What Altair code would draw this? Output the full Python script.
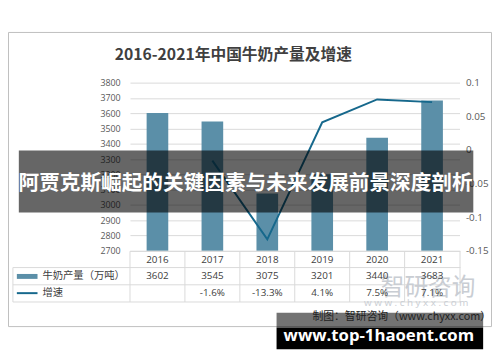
import altair as alt
import pandas as pd

# ---------------- data ----------------
years = ["2016", "2017", "2018", "2019", "2020", "2021"]
production = [3602, 3545, 3075, 3201, 3440, 3683]
growth = [None, -0.016, -0.133, 0.041, 0.075, 0.071]
growth_labels = ["", "-1.6%", "-13.3%", "4.1%", "7.5%", "7.1%"]
left_ticks = [2700, 2800, 2900, 3000, 3100, 3200, 3300, 3400, 3500, 3600, 3700, 3800]
right_ticks = [-0.15, -0.1, -0.05, 0, 0.05, 0.1]

title_text = "2016-2021年中国牛奶产量及增速"
series_names = ["牛奶产量（万吨）", "增速"]
banner_text = "阿贾克斯崛起的关键因素与未来发展前景深度剖析"
source_text = "制图：智研咨询（www.chyxx.com）"
site_text = "www.top-1haoent.com"
wm_text = "智研咨询"
wm_url = "w w w . c h y x x . c o m"

df = pd.DataFrame({"year": years, "production": production,
                   "growth": growth, "growth_label": growth_labels})

BAR = "#5b8fa8"
LINE = "#16688c"
GRID = "#d9d9d9"
CJK = "Noto Sans CJK SC"
TXT = "#404040"

one = alt.Data(values=[{"a": 1}])


def rect(x, x2, y, y2, **kw):
    return alt.Chart(one).mark_rect(**kw).encode(
        x=alt.value(x), x2=alt.value(x2), y=alt.value(y), y2=alt.value(y2))


def rule(x, x2, y, y2, color=GRID, width=1):
    return alt.Chart(one).mark_rule(color=color, strokeWidth=width).encode(
        x=alt.value(x), x2=alt.value(x2), y=alt.value(y), y2=alt.value(y2))


def label(text, x, y, **kw):
    return alt.Chart(one).mark_text(**kw).encode(
        x=alt.value(x), y=alt.value(y), text=alt.value(text))


X = alt.X("year:N", sort=years,
          scale=alt.Scale(paddingInner=0, paddingOuter=0), axis=None)

frame = rect(-123.5, 367.5, -51, 248, fill="white", fillOpacity=0,
             stroke="#bfbfbf", strokeWidth=1)

title = label(title_text, 105, -28, font=CJK, fontSize=16, fontWeight="bold",
              color=TXT, align="center", baseline="middle")

bars = alt.Chart(df).mark_bar(size=22, color=BAR, clip=True).encode(
    x=X,
    y=alt.Y("production:Q",
            scale=alt.Scale(domain=[2700, 3800], nice=False, zero=False),
            axis=alt.Axis(values=left_ticks, format="d", domain=False, ticks=False,
                          labelPadding=10, labelFontSize=9, labelColor="#595959",
                          labelFont="Open Sans", gridColor=GRID, title=None,
                          zindex=0)),
)

line = alt.Chart(df).mark_line(color=LINE, strokeWidth=2).encode(
    x=X,
    y=alt.Y("growth:Q",
            scale=alt.Scale(domain=[-0.15, 0.1], nice=False, zero=False),
            axis=alt.Axis(orient="right", values=right_ticks, domain=False,
                          ticks=False, grid=False, labelPadding=6,
                          labelFontSize=10, labelColor="#595959",
                          labelFont="Open Sans", title=None,
                          labelExpr="'' + datum.value", zindex=0)),
)

# data table under the plot
table_rules = [
    rule(0, 336, 171.5, 171.5),
    rule(-119, 336, 188, 188),
    rule(-119, 336, 205.5, 205.5),
    rule(-119, 336, 223, 223),
    rule(-119, -119, 188, 223),
    rule(335.5, 335.5, 171.5, 223),
]
col_lines = alt.Chart(df).mark_rule(color=GRID, strokeWidth=1).encode(
    x=alt.X("year:N", sort=years, bandPosition=0,
            scale=alt.Scale(paddingInner=0, paddingOuter=0), axis=None),
    y=alt.value(171.5), y2=alt.value(223))

wm = label(wm_text, 303, 209, font=CJK, fontSize=24, color="#c9cdd3",
           align="center", baseline="middle")
wm2 = label(wm_url, 291, 224, font="Open Sans", fontSize=10, color="#c9cdd3",
            align="center", baseline="middle")

year_text = alt.Chart(df).mark_text(font="Open Sans", fontSize=10, color=TXT).encode(
    x=X, y=alt.value(180), text="year:N")
prod_text = alt.Chart(df).mark_text(font="Open Sans", fontSize=10, color=TXT).encode(
    x=X, y=alt.value(197), text="production:Q")
growth_text = alt.Chart(df).mark_text(font="Open Sans", fontSize=10, color=TXT).encode(
    x=X, y=alt.value(214), text="growth_label:N")

sw_bar = rect(-115, -94, 194.5, 199.5, fill=BAR)
sw_line = rule(-115, -94, 214, 214, color=LINE, width=2)
name1 = label(series_names[0], -89, 197, font=CJK, fontSize=10.5, color=TXT,
              align="left", baseline="middle")
name2 = label(series_names[1], -89, 214, font=CJK, fontSize=10.5, color=TXT,
              align="left", baseline="middle")

# overlays
banner = rect(-113, 349, 69, 132, fill="black", opacity=0.6)
banner_t = label(banner_text, 117.5, 103, font=CJK, fontSize=21, fontWeight="bold",
                 color="white", align="center", baseline="middle")

gray = rect(149, 359, 234, 249, fill="black", opacity=0.55)
source = label(source_text, 367, 238.5, font=CJK, fontSize=11, color="#222222",
               align="right", baseline="middle")
black = rect(149, 359, 249, 271, fill="black")
site = label(site_text, 253, 257.5, font="Open Sans", fontSize=17, fontWeight="bold",
             color="white", align="center", baseline="middle")

chart = alt.layer(
    frame, title, bars, line, *table_rules, col_lines, wm, wm2,
    year_text, prod_text, growth_text, sw_bar, sw_line, name1, name2,
    banner, banner_t, gray, source, black, site,
).resolve_scale(y="independent").properties(
    width=335, height=171,
    autosize="none",
    padding={"left": 124, "top": 73, "right": 33, "bottom": 102},
).configure_view(stroke=None)

chart.save("out.html", embed_options={"renderer": "svg", "actions": False})
